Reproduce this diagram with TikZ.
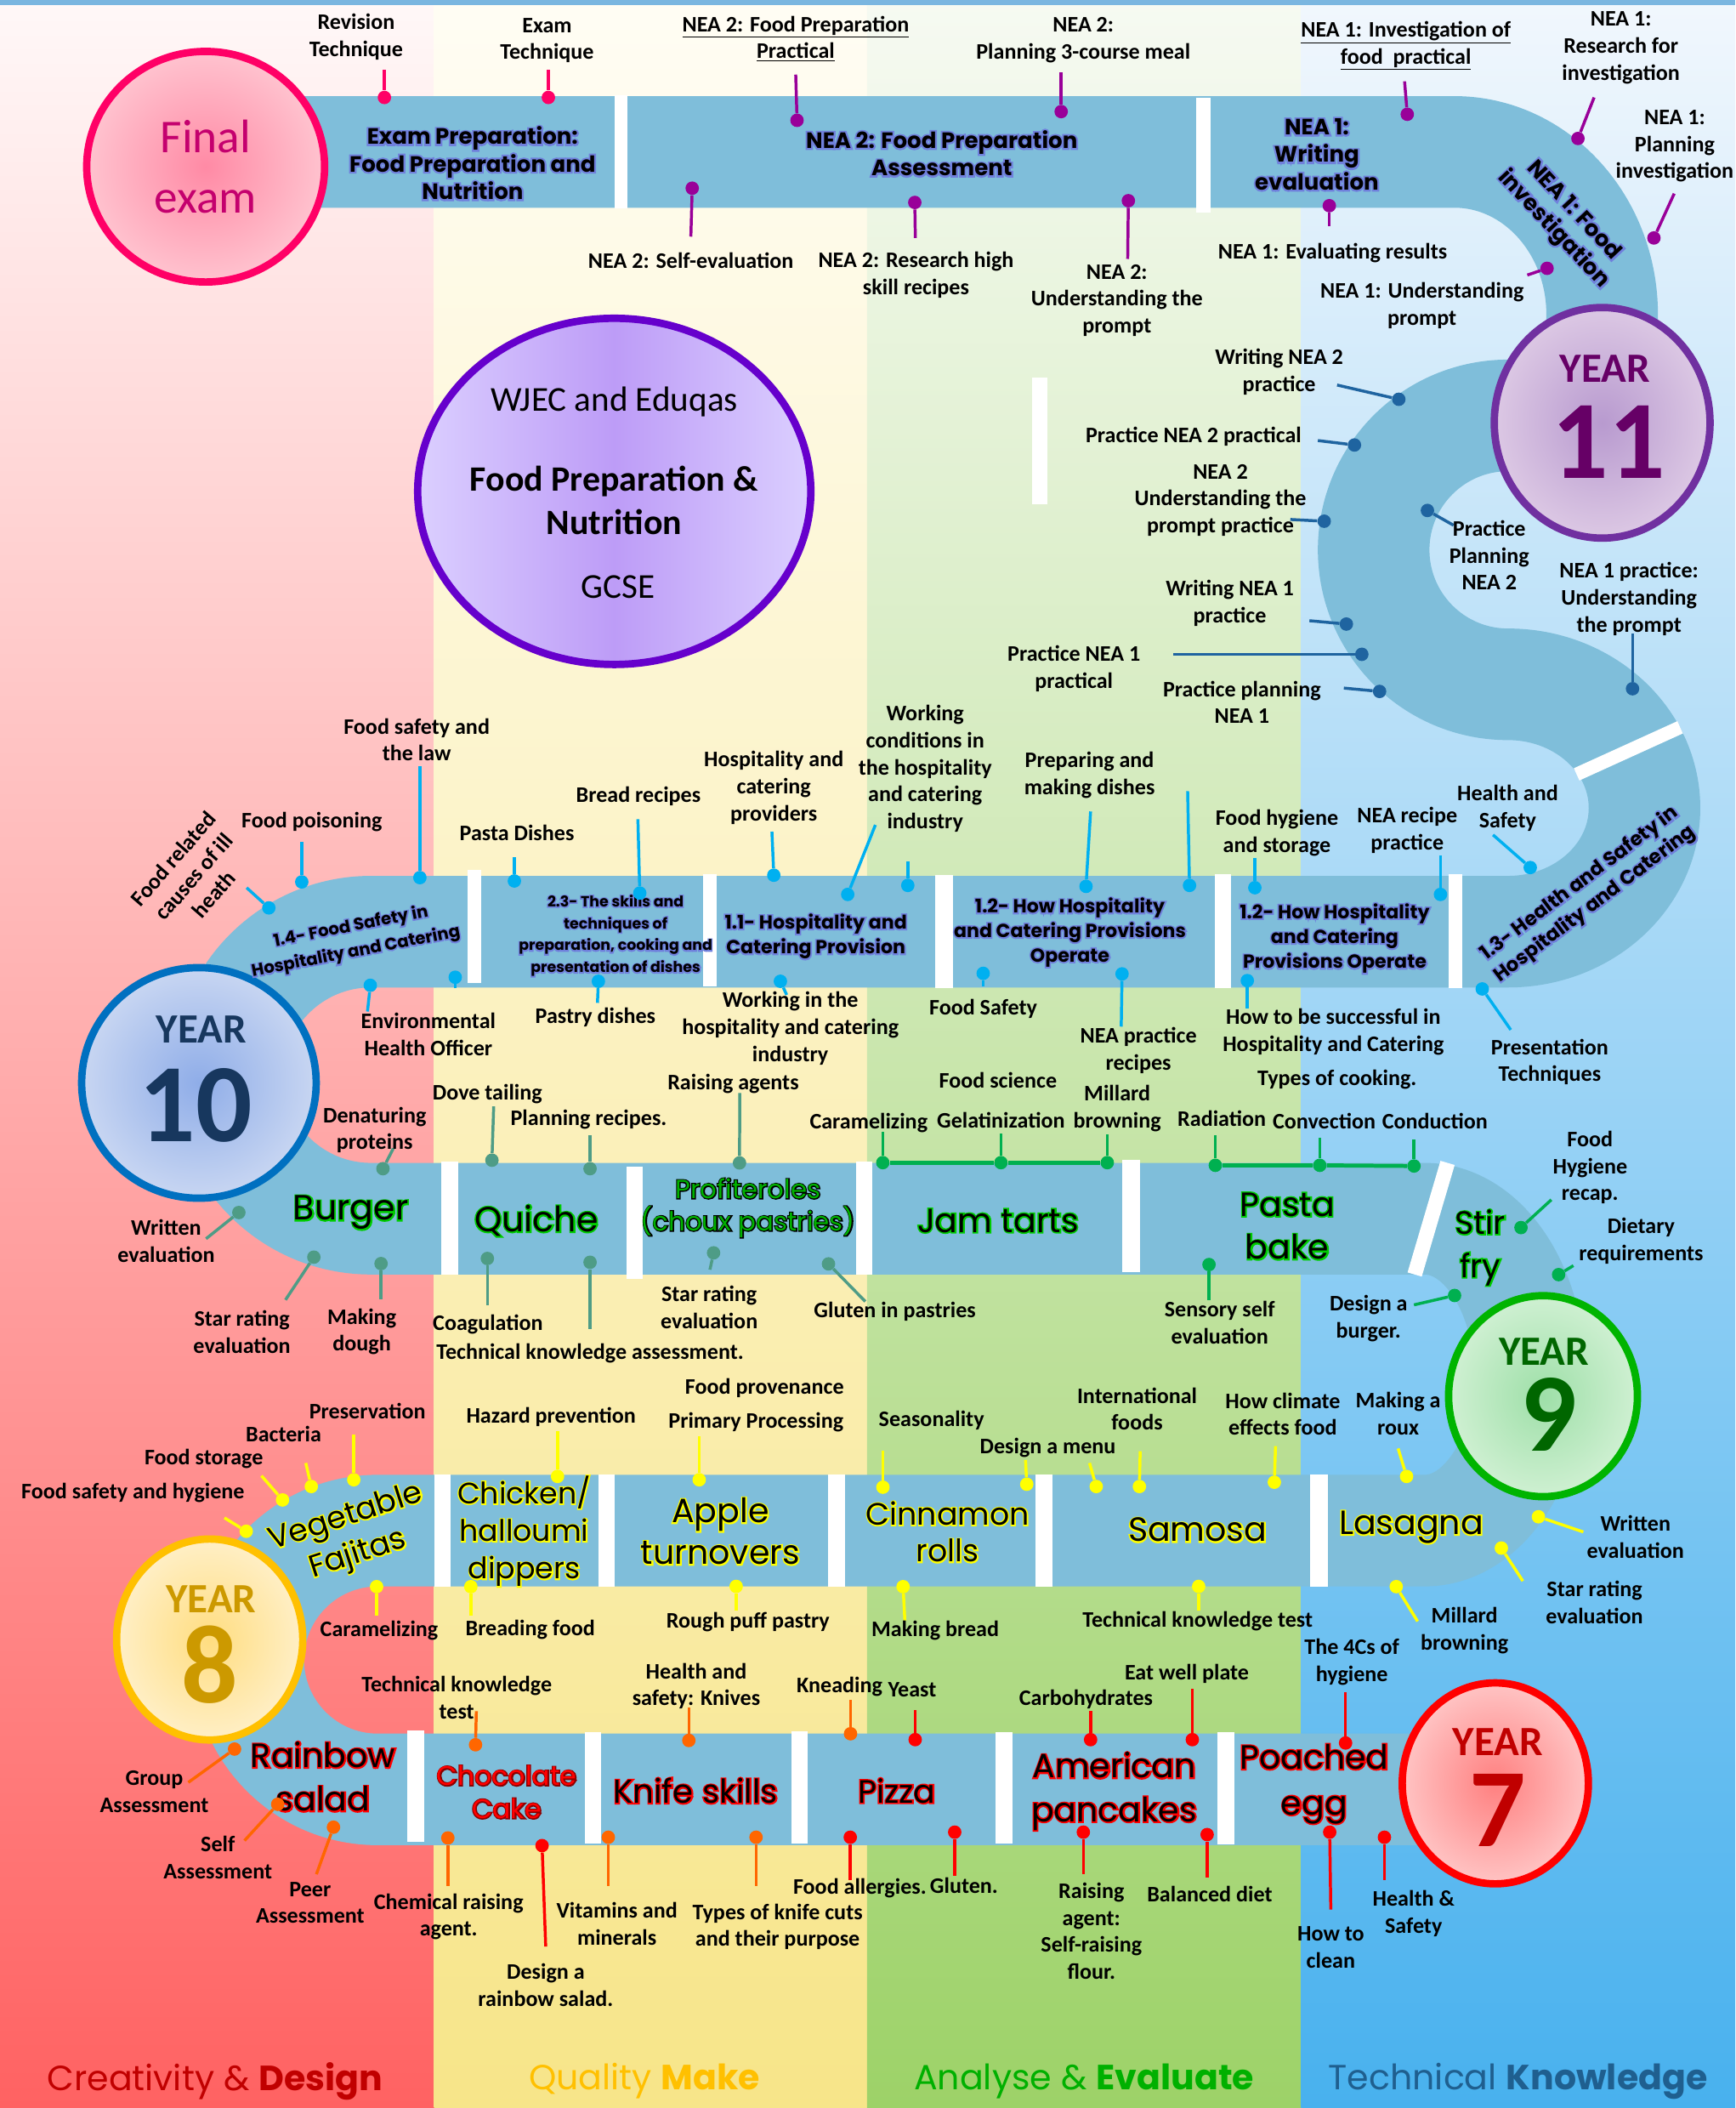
\documentclass[tikz,border=0pt]{standalone}
\usepackage{fontspec}
\setmainfont{Carlito}
\newfontfamily\popp{Poppins}
\newfontfamily\poppedge{Poppins}[FakeBold=8]
\newfontfamily\poppglow{Poppins}[FakeBold=16]
\usetikzlibrary{shapes.geometric}

\definecolor{Road}{HTML}{7FBEDA}
\definecolor{TopBlue}{HTML}{7AB6E0}
\definecolor{RedTop}{HTML}{FFF8F8}
\definecolor{RedMid}{HTML}{FFC4C4}
\definecolor{RedBot}{HTML}{FF6262}
\definecolor{YelTop}{HTML}{FFFDF4}
\definecolor{YelMid}{HTML}{FAF0C2}
\definecolor{YelBot}{HTML}{F7E589}
\definecolor{GrnTop}{HTML}{F6FAF2}
\definecolor{GrnMid}{HTML}{D4E9C0}
\definecolor{GrnBot}{HTML}{9DD268}
\definecolor{BluTop}{HTML}{F1F7FD}
\definecolor{BluMid}{HTML}{BDDDF7}
\definecolor{BluBot}{HTML}{48B1EE}
\definecolor{PinF}{HTML}{FF0066}
\definecolor{PinA}{HTML}{990099}
\definecolor{PinS}{HTML}{1F64A0}
\definecolor{PinB}{HTML}{00B0F0}
\definecolor{PinT}{HTML}{4E9C86}
\definecolor{PinG}{HTML}{00B050}
\definecolor{PinY}{HTML}{FFFF00}
\definecolor{PinO}{HTML}{FF6600}
\definecolor{PinR}{HTML}{FF0000}
\definecolor{GlowCol}{HTML}{7080DC}
\definecolor{DishG}{HTML}{00CC00}
\definecolor{ProfG}{HTML}{00B000}
\definecolor{DishY}{HTML}{FFFF00}
\definecolor{DishR}{HTML}{FF0000}
\definecolor{ChocEdge}{HTML}{8B0000}
\definecolor{FinLine}{HTML}{FF0066}
\definecolor{FinIn}{HTML}{FF8AA5}
\definecolor{FinOut}{HTML}{FFC3CF}
\definecolor{FinTxt}{HTML}{C4006E}
\definecolor{YElevLine}{HTML}{7030A0}
\definecolor{YElevIn}{HTML}{B89ACF}
\definecolor{YElevOut}{HTML}{DCC8E4}
\definecolor{YElevTxt}{HTML}{660066}
\definecolor{YTenLine}{HTML}{0070C0}
\definecolor{YTenIn}{HTML}{8FADE8}
\definecolor{YTenOut}{HTML}{C8D6F2}
\definecolor{YTenTxt}{HTML}{17375E}
\definecolor{YNineLine}{HTML}{00B400}
\definecolor{YNineIn}{HTML}{9EDFA8}
\definecolor{YNineOut}{HTML}{CFF0D2}
\definecolor{YNineTxt}{HTML}{006600}
\definecolor{YEightLine}{HTML}{FFC000}
\definecolor{YEightIn}{HTML}{FFDD80}
\definecolor{YEightOut}{HTML}{FFEFC6}
\definecolor{YEightTxt}{HTML}{CC9900}
\definecolor{YSevenLine}{HTML}{FF0000}
\definecolor{YSevenIn}{HTML}{FF8080}
\definecolor{YSevenOut}{HTML}{FFC4C4}
\definecolor{YSevenTxt}{HTML}{C00000}
\definecolor{WjLine}{HTML}{6600CC}
\definecolor{WjSide}{HTML}{DBCFFF}
\definecolor{WjMid}{HTML}{BD9CF7}
\definecolor{CapRed}{HTML}{C00000}
\definecolor{CapYel}{HTML}{FFC000}
\definecolor{CapGrn}{HTML}{00B000}
\definecolor{CapBlu}{HTML}{1F5F8F}

\newcommand{\bandline}[1]{\rlap{\color{GlowCol}\poppglow #1}#1}
\newcommand{\edged}[2]{\rlap{\color{#1}\poppedge #2}#2}

\begin{document}
\begin{tikzpicture}[x=1pt,y=-1pt]
            \tikzset{RoadStyle/.style={draw=Road, line width=83pt}}
            \tikzset{GapStyle/.style={fill=white}}
            \tikzset{Dot/.style={circle, fill=#1, inner sep=0pt, minimum size=10pt}}
            \tikzset{Pin/.style={draw=#1, line width=2.2pt}}
            \tikzset{Lbl/.style={font=\fontsize{16.5}{20}\selectfont\bfseries, align=center, inner sep=0pt}}
            \tikzset{BandTxt/.style={font=\popp\bfseries\fontsize{16.5}{20.5}\selectfont, align=center, inner sep=0pt}}
            \tikzset{DishTxt/.style={font=\popp\fontsize{25}{31}\selectfont, align=center, inner sep=0pt}}
            \tikzset{YearDisc/.style={ellipse, line width=5.5pt, inner sep=0pt}}
            \tikzset{YearTxt/.style={font=\fontsize{31}{31}\selectfont\bfseries, inner sep=0pt}}
            \tikzset{YearNum/.style={font=\fontsize{83}{83}\selectfont\bfseries, inner sep=0pt}}
            \tikzset{CapTxt/.style={font=\popp\fontsize{26}{30}\selectfont, inner sep=0pt}}

            \useasboundingbox (0,0) rectangle (1291,1568);

            \shade[top color=RedTop, middle color=RedMid, bottom color=RedBot] (0,0) rectangle (323.5,1568);
            \shade[top color=YelTop, middle color=YelMid, bottom color=YelBot] (323,0) rectangle (645.5,1568);
            \shade[top color=GrnTop, middle color=GrnMid, bottom color=GrnBot] (645,0) rectangle (968.5,1568);
            \shade[top color=BluTop, middle color=BluMid, bottom color=BluBot] (968,0) rectangle (1291,1568);
            \fill[TopBlue] (0,0) rectangle (1291,3.5);

            \draw[RoadStyle] (200,113) -- (1082,113) arc[start angle=-90, end angle=0, x radius=110, y radius=121] -- (1192,320);
            \draw[RoadStyle] (1200,309) -- (1122,309) arc[start angle=-90, end angle=-270, radius=100]
                arc[start angle=-90, end angle=90, x radius=101.5, y radius=92] -- (276,693)
                arc[start angle=-90, end angle=-270, radius=106.75] -- (1060,906.5)
                arc[start angle=-90, end angle=90, x radius=78, y radius=116] -- (281,1138.5)
                arc[start angle=-90, end angle=-270, radius=96.25] -- (1113,1331);

            \fill[GapStyle] (457,71) rectangle (467,155);
            \fill[GapStyle] (890,73) rectangle (900.5,158);
            \fill[GapStyle] (348,647) rectangle (358,731);
            \fill[GapStyle] (523,650) rectangle (533,734);
            \fill[GapStyle] (696,651) rectangle (709,735);
            \fill[GapStyle] (904,650) rectangle (916,735);
            \fill[GapStyle] (1078,650) rectangle (1088,735);
            \fill[GapStyle] (328,864) rectangle (341,948);
            \fill[GapStyle] (466,868) rectangle (478,951);
            \fill[GapStyle] (637,864) rectangle (649,948);
            \fill[GapStyle] (835,863) rectangle (848,946);
            \fill[GapStyle] (323.5,1097) rectangle (335.5,1180);
            \fill[GapStyle] (445,1097) rectangle (457,1180);
            \fill[GapStyle] (616,1097) rectangle (628.5,1180);
            \fill[GapStyle] (770.5,1097) rectangle (783,1180);
            \fill[GapStyle] (975,1097) rectangle (988,1180);
            \fill[GapStyle] (303,1287) rectangle (315.5,1370);
            \fill[GapStyle] (435,1288.5) rectangle (447,1371.5);
            \fill[GapStyle] (589,1287.5) rectangle (601,1371);
            \fill[GapStyle] (740.5,1288.5) rectangle (753,1371.5);
            \fill[GapStyle] (905.5,1288.5) rectangle (918.5,1372);
            \fill[GapStyle] (768,281) rectangle (779,375);
            \draw[white, line width=11pt] (1077,865) -- (1052.5,948);
            \draw[white, line width=10pt] (1173,576) -- (1250,541);

            \node[YearDisc, draw=WjLine, left color=WjSide, right color=WjSide, middle color=WjMid, minimum width=292.5pt, minimum height=257.5pt] (wjec) at (457,365.5) {};
            \node[font=\fontsize{26}{30}\selectfont, inner sep=0pt] (wj1) at (457,299) {WJEC and Eduqas};
            \node[font=\fontsize{26.5}{32}\selectfont\bfseries, align=center, inner sep=0pt] (wj2) at (457,372) {Food Preparation \&\\Nutrition};
            \node[font=\fontsize{26}{30}\selectfont, inner sep=0pt] (wj3) at (460,436.7) {GCSE};

            \node[YearDisc, draw=FinLine, inner color=FinIn, outer color=FinOut, minimum width=177pt, minimum height=171.5pt, text=FinTxt, font=\fontsize{35}{45}\selectfont, align=center] (fin) at (153,124) {Final\\exam};
            \node[YearDisc, draw=YElevLine, inner color=YElevIn, outer color=YElevOut, minimum width=160.5pt, minimum height=171.5pt] (y11) at (1192,314.5) {};
            \node[YearTxt, text=YElevTxt] (y11a) at (1194,274) {YEAR};
            \node[YearNum, text=YElevTxt] (y11b) at (1197,329) {11};
            \node[YearDisc, draw=YTenLine, inner color=YTenIn, outer color=YTenOut, minimum width=174.5pt, minimum height=171.5pt] (y10) at (148,805.5) {};
            \node[YearTxt, text=YTenTxt] (y10a) at (149.7,766) {YEAR};
            \node[YearNum, text=YTenTxt] (y10b) at (145.6,822) {10};
            \node[YearDisc, draw=YNineLine, inner color=YNineIn, outer color=YNineOut, minimum width=140.5pt, minimum height=149.5pt] (y9) at (1148,1038.5) {};
            \node[YearTxt, text=YNineTxt] (y9a) at (1148.7,1005.7) {YEAR};
            \node[YearNum, text=YNineTxt] (y9b) at (1152,1052) {9};
            \node[YearDisc, draw=YEightLine, inner color=YEightIn, outer color=YEightOut, minimum width=138.5pt, minimum height=149.5pt] (y8) at (156,1219.5) {};
            \node[YearTxt, text=YEightTxt] (y8a) at (157,1189.5) {YEAR};
            \node[YearNum, text=YEightTxt] (y8b) at (156,1238) {8};
            \node[YearDisc, draw=YSevenLine, inner color=YSevenIn, outer color=YSevenOut, minimum width=138.5pt, minimum height=149.5pt] (y7) at (1112.5,1326.5) {};
            \node[YearTxt, text=YSevenTxt] (y7a) at (1114.3,1296) {YEAR};
            \node[YearNum, text=YSevenTxt] (y7b) at (1114.3,1346.6) {7};

            \node[BandTxt] (ra1) at (351.6,121.3) {\bandline{Exam Preparation:}\\\bandline{Food Preparation and}\\\bandline{Nutrition}};
            \node[BandTxt] (ra2) at (700.7,114) {\bandline{NEA 2: Food Preparation}\\\bandline{Assessment}};
            \node[BandTxt] (ra3) at (979.7,114.8) {\bandline{NEA 1:}\\\bandline{Writing}\\\bandline{evaluation}};
            \node[BandTxt, rotate=-47] (ra4) at (1163,164) {\bandline{NEA 1: Food}\\\bandline{investigation}};
            \node[BandTxt, font=\popp\bfseries\fontsize{12.5}{19}\selectfont, rotate=11] (rb1) at (263,699) {\bandline{1.4- Food Safety in}\\\bandline{Hospitality and Catering}};
            \node[BandTxt, font=\popp\bfseries\fontsize{11}{16.3}\selectfont] (rb2) at (458,696) {\bandline{2.3- The skills and}\\\bandline{techniques of}\\\bandline{preparation, cooking and}\\\bandline{presentation of dishes}};
            \node[BandTxt, font=\popp\bfseries\fontsize{14}{18.5}\selectfont] (rb3) at (607,696.5) {\bandline{1.1- Hospitality and}\\\bandline{Catering Provision}};
            \node[BandTxt, font=\popp\bfseries\fontsize{14}{18.2}\selectfont] (rb4) at (796,693.5) {\bandline{1.2- How Hospitality}\\\bandline{and Catering Provisions}\\\bandline{Operate}};
            \node[BandTxt, font=\popp\bfseries\fontsize{14}{18.5}\selectfont] (rb5) at (993,698) {\bandline{1.2- How Hospitality}\\\bandline{and Catering}\\\bandline{Provisions Operate}};
            \node[BandTxt, font=\popp\bfseries\fontsize{14.5}{19}\selectfont, rotate=37] (rb6) at (1181,665) {\bandline{1.3- Health and Safety in}\\\bandline{Hospitality and Catering}};

            \node[DishTxt, font=\popp\fontsize{26}{31}\selectfont] (rc1) at (261,902) {\edged{DishG}{Burger}};
            \node[DishTxt, font=\popp\fontsize{26}{31}\selectfont] (rc2) at (399,908) {\edged{DishG}{Quiche}};
            \node[DishTxt, font=\popp\fontsize{19.5}{24}\selectfont, text=ProfG] (rc3) at (556.5,898.5) {\edged{black}{Profiteroles}\\\edged{black}{(choux pastries)}};
            \node[DishTxt] (rc4) at (742.5,908) {\edged{DishG}{Jam tarts}};
            \node[DishTxt, font=\popp\fontsize{25}{32}\selectfont] (rc5) at (957.7,912) {\edged{DishG}{Pasta}\\\edged{DishG}{bake}};
            \node[DishTxt, font=\popp\fontsize{24}{32}\selectfont] (rc6) at (1101.4,928) {\edged{DishG}{Stir}\\\edged{DishG}{fry}};
            \node[DishTxt, font=\popp\fontsize{23}{29}\selectfont, rotate=18] (rd1) at (262,1143) {\edged{DishY}{Vegetable}\\\edged{DishY}{Fajitas}};
            \node[DishTxt, font=\popp\fontsize{22}{28}\selectfont] (rd2) at (390,1139) {\edged{DishY}{Chicken/}\\\edged{DishY}{halloumi}\\\edged{DishY}{dippers}};
            \node[DishTxt] (rd3) at (536,1139) {\edged{DishY}{Apple}\\\edged{DishY}{turnovers}};
            \node[DishTxt, font=\popp\fontsize{23}{27.5}\selectfont] (rd4) at (705,1139.5) {\edged{DishY}{Cinnamon}\\\edged{DishY}{rolls}};
            \node[DishTxt] (rd5) at (891,1138) {\edged{DishY}{Samosa}};
            \node[DishTxt] (rd6) at (1050,1136) {\edged{DishY}{Lasagna}};
            \node[DishTxt, font=\popp\fontsize{25}{32.5}\selectfont] (re1) at (240.4,1321.5) {\edged{DishR}{Rainbow}\\\edged{DishR}{salad}};
            \node[DishTxt, font=\popp\fontsize{20}{24.5}\selectfont, text=DishR] (re2) at (377,1333) {\edged{ChocEdge}{Chocolate}\\\edged{ChocEdge}{Cake}};
            \node[DishTxt, font=\popp\fontsize{24.5}{31}\selectfont] (re3) at (517.5,1332) {\edged{DishR}{Knife skills}};
            \node[DishTxt, font=\popp\fontsize{24}{31}\selectfont] (re4) at (667.2,1332) {\edged{DishR}{Pizza}};
            \node[DishTxt, font=\popp\fontsize{25}{32.5}\selectfont] (re5) at (829,1332.5) {\edged{DishR}{American}\\\edged{DishR}{pancakes}};
            \node[DishTxt, font=\popp\fontsize{25}{34}\selectfont] (re6) at (977.8,1327) {\edged{DishR}{Poached}\\\edged{DishR}{egg}};

            \node[Dot=PinF] (a1) at (286,72.5) {}; \coordinate (a1x) at (286,52); \draw[Pin=PinF] (a1) -- (a1x); \node[Lbl] (a1t) at (265,27.5) {Revision\\Technique};
            \node[Dot=PinF] (a2) at (408,72.5) {}; \coordinate (a2x) at (408,52); \draw[Pin=PinF] (a2) -- (a2x); \node[Lbl] (a2t) at (407,30) {Exam\\Technique};
            \node[Dot=PinA] (a3) at (593,89.5) {}; \coordinate (a3x) at (592,55.5); \draw[Pin=PinA] (a3) -- (a3x); \node[Lbl] (a3t) at (592,28.8) {\underline{NEA 2: Food Preparation}\\\underline{Practical}};
            \node[Dot=PinA] (a4) at (789.5,83) {}; \coordinate (a4x) at (789.5,54); \draw[Pin=PinA] (a4) -- (a4x); \node[Lbl] (a4t) at (806,30) {NEA 2:\\Planning 3-course meal};
            \node[Dot=PinA] (a5) at (1047,85) {}; \coordinate (a5x) at (1045,60.5); \draw[Pin=PinA] (a5) -- (a5x); \node[Lbl] (a5t) at (1046,34) {\underline{NEA 1: Investigation of}\\\underline{food~~practical}};
            \node[Dot=PinA] (a6) at (1174,103) {}; \coordinate (a6x) at (1186,72.5); \draw[Pin=PinA] (a6) -- (a6x); \node[Lbl] (a6t) at (1206,35.5) {NEA 1:\\Research for\\investigation};
            \node[Dot=PinA] (a7) at (1230.5,177) {}; \coordinate (a7x) at (1245.6,144); \draw[Pin=PinA] (a7) -- (a7x); \node[Lbl] (a7t) at (1246,108.8) {NEA 1:\\Planning\\investigation};
            \node[Dot=PinA] (a8) at (515,140) {}; \coordinate (a8x) at (514,176); \draw[Pin=PinA] (a8) -- (a8x); \node[Lbl] (a8t) at (514,193.8) {NEA 2: Self-evaluation};
            \node[Dot=PinA] (a9) at (680.6,150.6) {}; \coordinate (a9x) at (681,177); \draw[Pin=PinA] (a9) -- (a9x); \node[Lbl] (a9t) at (681.5,204.6) {NEA 2: Research high\\skill recipes};
            \node[Dot=PinA] (a10) at (839.5,149.3) {}; \coordinate (a10x) at (839,192.6); \draw[Pin=PinA] (a10) -- (a10x); \node[Lbl] (a10t) at (831,223.5) {NEA 2:\\Understanding the\\prompt};
            \node[Dot=PinA] (a11) at (989,153) {}; \coordinate (a11x) at (989,168); \draw[Pin=PinA] (a11) -- (a11x); \node[Lbl] (a11t) at (991.5,188) {NEA 1: Evaluating results};
            \node[Dot=PinA] (a12) at (1151,199.6) {}; \coordinate (a12x) at (1136.3,204.6); \draw[Pin=PinA] (a12) -- (a12x); \node[Lbl] (a12t) at (1058,227.3) {NEA 1: Understanding\\prompt};

            \node[Dot=PinS] (s1) at (1040.7,297) {}; \coordinate (s1x) at (994.8,286.4); \draw[Pin=PinS] (s1) -- (s1x); \node[Lbl] (s1t) at (951.7,276.6) {Writing NEA 2\\practice};
            \node[Dot=PinS] (s2) at (1007.7,331) {}; \coordinate (s2x) at (980.5,327.7); \draw[Pin=PinS] (s2) -- (s2x); \node[Lbl] (s2t) at (888,325) {Practice NEA 2 practical};
            \node[Dot=PinS] (s3) at (985.2,387.7) {}; \coordinate (s3x) at (960,386.4); \draw[Pin=PinS] (s3) -- (s3x); \node[Lbl] (s3t) at (908,372) {NEA 2\\Understanding the\\prompt practice};
            \node[Dot=PinS] (s4) at (1062,379.7) {}; \coordinate (s4x) at (1081.4,390.7); \draw[Pin=PinS] (s4) -- (s4x); \node[Lbl] (s4t) at (1108,413) {Practice\\Planning\\NEA 2};
            \node[Dot=PinS] (s5) at (1214.6,512.3) {}; \coordinate (s5x) at (1214.6,471); \draw[Pin=PinS] (s5) -- (s5x); \node[Lbl] (s5t) at (1212,445.5) {NEA 1 practice:\\Understanding\\the prompt};
            \node[Dot=PinS] (s6) at (1001.7,464.2) {}; \coordinate (s6x) at (974.2,461.7); \draw[Pin=PinS] (s6) -- (s6x); \node[Lbl] (s6t) at (915,448.5) {Writing NEA 1\\practice};
            \node[Dot=PinS] (s7) at (1013.2,486.7) {}; \coordinate (s7x) at (872.6,486.7); \draw[Pin=PinS] (s7) -- (s7x); \node[Lbl] (s7t) at (799,497.5) {Practice NEA 1\\practical};
            \node[Dot=PinS] (s8) at (1026.4,514.3) {}; \coordinate (s8x) at (999.8,511.8); \draw[Pin=PinS] (s8) -- (s8x); \node[Lbl] (s8t) at (924,522.3) {Practice planning\\NEA 1};

            \node[Dot=PinB] (b1) at (200,675.3) {}; \coordinate (b1x) at (183.5,660.3); \draw[Pin=PinB] (b1) -- (b1x); \node[Lbl, rotate=49] (b1t) at (144,652) {Food related\\causes of ill\\heath};
            \node[Dot=PinB] (b2) at (224.5,656) {}; \coordinate (b2x) at (224.5,626); \draw[Pin=PinB] (b2) -- (b2x); \node[Lbl] (b2t) at (232,611.3) {Food poisoning};
            \node[Dot=PinB] (b3) at (312.4,652.8) {}; \coordinate (b3x) at (312.4,569.8); \draw[Pin=PinB] (b3) -- (b3x); \node[Lbl] (b3t) at (310,550.3) {Food safety and\\the law};
            \node[Dot=PinB] (b4) at (382.7,655.3) {}; \coordinate (b4x) at (382.7,637.8); \draw[Pin=PinB] (b4) -- (b4x); \node[Lbl] (b4t) at (384.6,619.8) {Pasta Dishes};
            \node[Dot=PinB] (b5) at (476,664.3) {}; \coordinate (b5x) at (474.6,609.3); \draw[Pin=PinB] (b5) -- (b5x); \node[Lbl] (b5t) at (475,592) {Bread recipes};
            \node[Dot=PinB] (b6) at (575.7,651) {}; \coordinate (b6x) at (574.3,618.6); \draw[Pin=PinB] (b6) -- (b6x); \node[Lbl] (b6t) at (575.7,586) {Hospitality and\\catering\\providers};
            \node[Dot=PinB] (b7) at (630.7,665.3) {}; \coordinate (b7x) at (651.3,613.6); \draw[Pin=PinB] (b7) -- (b7x); \node[Lbl] (b7t) at (688.3,571.8) {Working\\conditions in\\the hospitality\\and catering\\industry};
            \node[Dot=PinB] (b8) at (675.4,658.6) {}; \coordinate (b8x) at (675.4,640.6); \draw[Pin=PinB] (b8) -- (b8x);
            \node[Dot=PinB] (b9) at (808,659.3) {}; \coordinate (b9x) at (811.4,603.6); \draw[Pin=PinB] (b9) -- (b9x); \node[Lbl] (b9t) at (810.6,576.5) {Preparing and\\making dishes};
            \node[Dot=PinB] (b10) at (885,658.6) {}; \coordinate (b10x) at (883.6,588.5); \draw[Pin=PinB] (b10) -- (b10x);
            \node[Dot=PinB] (b11) at (933.6,660.3) {}; \coordinate (b11x) at (933.6,638); \draw[Pin=PinB] (b11) -- (b11x); \node[Lbl] (b11t) at (950,619.5) {Food hygiene\\and storage};
            \node[Dot=PinB] (b12) at (1071.7,665.3) {}; \coordinate (b12x) at (1071.7,636); \draw[Pin=PinB] (b12) -- (b12x); \node[Lbl] (b12t) at (1047,617.5) {NEA recipe\\practice};
            \node[Dot=PinB] (b13) at (1138.5,645.3) {}; \coordinate (b13x) at (1110.8,621); \draw[Pin=PinB] (b13) -- (b13x); \node[Lbl] (b13t) at (1121.7,601) {Health and\\Safety};
            \node[Dot=PinB] (b14) at (275.5,732.9) {}; \coordinate (b14x) at (273.4,752.4); \draw[Pin=PinB] (b14) -- (b14x); \node[Lbl] (b14t) at (318.7,769.6) {Environmental\\Health Officer};
            \node[Dot=PinB] (b15) at (338.7,726.9) {}; \coordinate (b15x) at (338.7,735); \draw[Pin=PinB] (b15) -- (b15x);
            \node[Dot=PinB] (b16) at (445.2,729.9) {}; \coordinate (b16x) at (444.5,746); \draw[Pin=PinB] (b16) -- (b16x); \node[Lbl] (b16t) at (443,757) {Pastry dishes};
            \node[Dot=PinB] (b17) at (580.6,729.9) {}; \coordinate (b17x) at (585.3,740); \draw[Pin=PinB] (b17) -- (b17x); \node[Lbl] (b17t) at (588,765) {Working in the\\hospitality and catering\\industry};
            \node[Dot=PinB] (b18) at (731.5,724) {}; \coordinate (b18x) at (731.5,734); \draw[Pin=PinB] (b18) -- (b18x); \node[Lbl] (b18t) at (731.5,750.4) {Food Safety};
            \node[Dot=PinB] (b19) at (834.8,724.4) {}; \coordinate (b19x) at (834.2,763.6); \draw[Pin=PinB] (b19) -- (b19x); \node[Lbl] (b19t) at (847,781.5) {NEA practice\\recipes};
            \node[Dot=PinB] (b20) at (928,729.4) {}; \coordinate (b20x) at (928,750); \draw[Pin=PinB] (b20) -- (b20x); \node[Lbl] (b20t) at (992,767.6) {How to be successful in\\Hospitality and Catering};
            \node[Dot=PinB] (b21) at (1102.8,735.6) {}; \coordinate (b21x) at (1124,766); \draw[Pin=PinB] (b21) -- (b21x); \node[Lbl] (b21t) at (1153,790) {Presentation\\Techniques};

            \node[Lbl] (h1) at (742.5,803.6) {Food science};
            \node[Lbl] (h2) at (994.8,803) {Types of cooking.};
            \node[Dot=PinT] (c1) at (284.9,869.3) {}; \coordinate (c1x) at (292.6,854.3); \draw[Pin=PinT] (c1) -- (c1x); \node[Lbl] (c1t) at (278.8,840.6) {Denaturing\\proteins};
            \node[Dot=PinT] (c2) at (366,863) {}; \coordinate (c2x) at (367.3,823); \draw[Pin=PinT] (c2) -- (c2x); \node[Lbl] (c2t) at (362.6,813.8) {Dove tailing};
            \node[Dot=PinT] (c3) at (439,869.3) {}; \coordinate (c3x) at (439,844.3); \draw[Pin=PinT] (c3) -- (c3x); \node[Lbl] (c3t) at (438,833) {Planning recipes.};
            \node[Dot=PinT] (c4) at (550.2,865) {}; \coordinate (c4x) at (550.4,813); \draw[Pin=PinT] (c4) -- (c4x); \node[Lbl] (c4t) at (545.5,806.3) {Raising agents};
            \node[Dot=PinG] (c5) at (656.8,864.8) {}; \coordinate (c5x) at (656.8,842); \draw[Pin=PinG] (c5) -- (c5x); \node[Lbl] (c5t) at (646.3,835) {Caramelizing};
            \node[Dot=PinG] (c6) at (744.7,864.8) {}; \coordinate (c6x) at (744.7,843); \draw[Pin=PinG] (c6) -- (c6x); \node[Lbl] (c6t) at (744.7,833) {Gelatinization};
            \node[Dot=PinG] (c7) at (823.8,864.8) {}; \coordinate (c7x) at (823.8,844); \draw[Pin=PinG] (c7) -- (c7x); \node[Lbl] (c7t) at (831.2,824.5) {Millard\\browning};
            \draw[Pin=PinG, line width=3pt] (c5) -- (c6) -- (c7);
            \node[Dot=PinG] (c8) at (904.2,866.8) {}; \coordinate (c8x) at (904.2,844.3); \draw[Pin=PinG] (c8) -- (c8x); \node[Lbl] (c8t) at (909,831.8) {Radiation};
            \node[Dot=PinG] (c9) at (981.9,866.8) {}; \coordinate (c9x) at (981.9,846.3); \draw[Pin=PinG] (c9) -- (c9x); \node[Lbl] (c9t) at (985.2,833.8) {Convection};
            \node[Dot=PinG] (c10) at (1052,867.3) {}; \coordinate (c10x) at (1052,847.3); \draw[Pin=PinG] (c10) -- (c10x); \node[Lbl] (c10t) at (1067.6,833.8) {Conduction};
            \draw[Pin=PinG, line width=3pt] (c8) -- (c9) -- (c10);
            \node[Dot=PinG] (c11) at (1131.6,913.1) {}; \coordinate (c11x) at (1154.2,892.4); \draw[Pin=PinG] (c11) -- (c11x); \node[Lbl] (c11t) at (1183,868.6) {Food\\Hygiene\\recap.};
            \node[Dot=PinG] (c12) at (1159.6,948.1) {}; \coordinate (c12x) at (1170.6,941.4); \draw[Pin=PinG] (c12) -- (c12x); \node[Lbl] (c12t) at (1221,923) {Dietary\\requirements};
            \node[Dot=PinT] (c13) at (177.7,901.9) {}; \coordinate (c13x) at (153.3,921.4); \draw[Pin=PinT] (c13) -- (c13x); \node[Lbl] (c13t) at (123.6,923) {Written\\evaluation};
            \node[Dot=PinT] (c14) at (233.5,935.1) {}; \coordinate (c14x) at (212.4,966.9); \draw[Pin=PinT] (c14) -- (c14x); \node[Lbl] (c14t) at (180,990.6) {Star rating\\evaluation};
            \node[Dot=PinT] (c15) at (283.5,939.9) {}; \coordinate (c15x) at (283.5,966.4); \draw[Pin=PinT] (c15) -- (c15x); \node[Lbl] (c15t) at (269.2,990.6) {Making\\dough};
            \node[Dot=PinT] (c16) at (362.6,936.1) {}; \coordinate (c16x) at (362.6,970.6); \draw[Pin=PinT] (c16) -- (c16x); \node[Lbl] (c16t) at (363,985) {Coagulation};
            \node[Dot=PinT] (c17) at (439,938.9) {}; \coordinate (c17x) at (439,988.9); \draw[Pin=PinT] (c17) -- (c17x); \node[Lbl] (c17t) at (439,1006.4) {Technical knowledge assessment.};
            \node[Dot=PinT] (c18) at (530.9,931.9) {}; \coordinate (c18x) at (528.2,944.4); \draw[Pin=PinT] (c18) -- (c18x); \node[Lbl] (c18t) at (527.6,972.4) {Star rating\\evaluation};
            \node[Dot=PinT] (c19) at (616.4,940.1) {}; \coordinate (c19x) at (643.8,968.1); \draw[Pin=PinT] (c19) -- (c19x); \node[Lbl] (c19t) at (665.8,975.6) {Gluten in pastries};
            \node[Dot=PinG] (c20) at (899.5,940.6) {}; \coordinate (c20x) at (899.5,966.9); \draw[Pin=PinG] (c20) -- (c20x); \node[Lbl] (c20t) at (907.5,984) {Sensory self\\evaluation};
            \node[Dot=PinG] (c21) at (1082.2,963.6) {}; \coordinate (c21x) at (1052,970.6); \draw[Pin=PinG] (c21) -- (c21x); \node[Lbl] (c21t) at (1018.2,980.9) {Design a\\burger.};

            \node[Lbl] (h3) at (568.8,1032.4) {Food provenance};
            \node[Dot=PinY] (d1) at (263.2,1100.7) {}; \coordinate (d1x) at (263.2,1067); \draw[Pin=PinY] (d1) -- (d1x); \node[Lbl] (d1t) at (273.4,1049.4) {Preservation};
            \node[Dot=PinY] (d2) at (231.6,1105.7) {}; \coordinate (d2x) at (227.5,1088.2); \draw[Pin=PinY] (d2) -- (d2x); \node[Lbl] (d2t) at (211,1066.4) {Bacteria};
            \node[Dot=PinY] (d3) at (210.2,1115.7) {}; \coordinate (d3x) at (194.5,1097.7); \draw[Pin=PinY] (d3) -- (d3x); \node[Lbl] (d3t) at (151.6,1085.2) {Food storage};
            \node[Dot=PinY] (d4) at (183.2,1139) {}; \coordinate (d4x) at (167,1129); \draw[Pin=PinY] (d4) -- (d4x); \node[Lbl] (d4t) at (98.9,1110.7) {Food safety and hygiene};
            \node[Dot=PinY] (d5) at (414.8,1098.2) {}; \coordinate (d5x) at (414.8,1064.4); \draw[Pin=PinY] (d5) -- (d5x); \node[Lbl] (d5t) at (410,1054) {Hazard prevention};
            \node[Dot=PinY] (d6) at (520.2,1100.7) {}; \coordinate (d6x) at (520.2,1068.2); \draw[Pin=PinY] (d6) -- (d6x); \node[Lbl] (d6t) at (562.5,1057.7) {Primary Processing};
            \node[Dot=PinY] (d7) at (656.9,1106.2) {}; \coordinate (d7x) at (656.9,1079); \draw[Pin=PinY] (d7) -- (d7x); \node[Lbl] (d7t) at (693,1056.4) {Seasonality};
            \node[Dot=PinY] (d8) at (763.9,1104) {}; \coordinate (d8x) at (763,1086); \draw[Pin=PinY] (d8) -- (d8x); \node[Lbl] (d8t) at (779.6,1077) {Design a menu};
            \node[Dot=PinY] (d9) at (815.6,1105.7) {}; \coordinate (d9x) at (810.6,1088.2); \draw[Pin=PinY] (d9) -- (d9x);
            \node[Dot=PinY] (d10) at (847.7,1105.7) {}; \coordinate (d10x) at (848.3,1079.5); \draw[Pin=PinY] (d10) -- (d10x); \node[Lbl] (d10t) at (846,1048) {International\\foods};
            \node[Dot=PinY] (d11) at (948.1,1102.5) {}; \coordinate (d11x) at (949,1075.7); \draw[Pin=PinY] (d11) -- (d11x); \node[Lbl] (d11t) at (954.4,1051.9) {How climate\\effects food};
            \node[Dot=PinY] (d12) at (1046.5,1098.2) {}; \coordinate (d12x) at (1040.2,1077.4); \draw[Pin=PinY] (d12) -- (d12x); \node[Lbl] (d12t) at (1040.2,1051.7) {Making a\\roux};
            \node[Dot=PinY] (d13) at (1144.6,1128.2) {}; \coordinate (d13x) at (1178,1139.5); \draw[Pin=PinY] (d13) -- (d13x); \node[Lbl] (d13t) at (1216.8,1143.2) {Written\\evaluation};
            \node[Dot=PinY] (d14) at (1117,1151.5) {}; \coordinate (d14x) at (1133,1176); \draw[Pin=PinY] (d14) -- (d14x); \node[Lbl] (d14t) at (1186.3,1192) {Star rating\\evaluation};
            \node[Dot=PinY] (d15) at (1038.8,1180.2) {}; \coordinate (d15x) at (1054.7,1206); \draw[Pin=PinY] (d15) -- (d15x); \node[Lbl] (d15t) at (1089.6,1213) {Millard\\browning};
            \node[Dot=PinY] (d16) at (891.8,1180) {}; \coordinate (d16x) at (891.8,1197.8); \draw[Pin=PinY] (d16) -- (d16x); \node[Lbl] (d16t) at (891,1206) {Technical knowledge test};
            \node[Dot=PinY] (d17) at (671.9,1180.2) {}; \coordinate (d17x) at (673.2,1205.3); \draw[Pin=PinY] (d17) -- (d17x); \node[Lbl] (d17t) at (695.8,1212.8) {Making bread};
            \node[Dot=PinY] (d18) at (547.7,1180) {}; \coordinate (d18x) at (547.7,1197.8); \draw[Pin=PinY] (d18) -- (d18x); \node[Lbl] (d18t) at (556.5,1206.5) {Rough puff pastry};
            \node[Dot=PinY] (d19) at (350.3,1180.2) {}; \coordinate (d19x) at (350.3,1201.5); \draw[Pin=PinY] (d19) -- (d19x); \node[Lbl] (d19t) at (394.5,1212) {Breading food};
            \node[Dot=PinY] (d20) at (280.2,1180.2) {}; \coordinate (d20x) at (280.2,1201.5); \draw[Pin=PinY] (d20) -- (d20x); \node[Lbl] (d20t) at (282.1,1212.8) {Caramelizing};

            \node[Dot=PinO] (e1) at (353.8,1297.8) {}; \coordinate (e1x) at (354.4,1272.8); \draw[Pin=PinO] (e1) -- (e1x); \node[Lbl] (e1t) at (339.8,1262.8) {Technical knowledge\\test};
            \node[Dot=PinO] (e2) at (174.5,1301) {}; \coordinate (e2x) at (140.1,1325.8); \draw[Pin=PinO] (e2) -- (e2x); \node[Lbl] (e2t) at (114.8,1332.8) {Group\\Assessment};
            \node[Dot=PinO] (e3) at (206.6,1342.1) {}; \coordinate (e3x) at (181.9,1369.1); \draw[Pin=PinO] (e3) -- (e3x); \node[Lbl] (e3t) at (162.1,1381.6) {Self\\Assessment};
            \node[Dot=PinO] (e4) at (248.1,1359.1) {}; \coordinate (e4x) at (235.4,1394.1); \draw[Pin=PinO] (e4) -- (e4x); \node[Lbl] (e4t) at (230.8,1415.4) {Peer\\Assessment};
            \node[Dot=PinO] (e5) at (333.2,1367.1) {}; \coordinate (e5x) at (333.2,1402.9); \draw[Pin=PinO] (e5) -- (e5x); \node[Lbl] (e5t) at (333.8,1425.6) {Chemical raising\\agent.};
            \node[Dot=PinR] (e6) at (403.3,1372.8) {}; \coordinate (e6x) at (406,1447.9); \draw[Pin=PinR] (e6) -- (e6x); \node[Lbl] (e6t) at (406,1476.6) {Design a\\rainbow salad.};
            \node[Dot=PinO] (e7) at (452.6,1366.6) {}; \coordinate (e7x) at (452.6,1402.9); \draw[Pin=PinO] (e7) -- (e7x); \node[Lbl] (e7t) at (459,1431) {Vitamins and\\minerals};
            \node[Dot=PinO] (e8) at (562.5,1366.6) {}; \coordinate (e8x) at (562.5,1402.9); \draw[Pin=PinO] (e8) -- (e8x); \node[Lbl] (e8t) at (578.5,1433.2) {Types of knife cuts\\and their purpose};
            \node[Dot=PinO] (e9) at (512.5,1294.6) {}; \coordinate (e9x) at (512.5,1270.3); \draw[Pin=PinO] (e9) -- (e9x); \node[Lbl] (e9t) at (518,1254.3) {Health and\\safety: Knives};
            \node[Dot=PinO] (e10) at (632.8,1289.6) {}; \coordinate (e10x) at (632.8,1264.5); \draw[Pin=PinO] (e10) -- (e10x); \node[Lbl] (e10t) at (624.6,1254.5) {Kneading};
            \node[Dot=PinR] (e11) at (680.9,1294) {}; \coordinate (e11x) at (680.9,1272); \draw[Pin=PinR] (e11) -- (e11x); \node[Lbl] (e11t) at (678.7,1257) {Yeast};
            \node[Dot=PinR] (e12) at (632.6,1366.6) {}; \coordinate (e12x) at (632.6,1398.6); \draw[Pin=PinR] (e12) -- (e12x); \node[Lbl] (e12t) at (639.7,1404.6) {Food allergies.};
            \node[Dot=PinR] (e13) at (710.3,1362.8) {}; \coordinate (e13x) at (710.3,1395.4); \draw[Pin=PinR] (e13) -- (e13x); \node[Lbl] (e13t) at (717.2,1402.4) {Gluten.};
            \node[Dot=PinR] (e14) at (811.4,1294) {}; \coordinate (e14x) at (811.4,1272.8); \draw[Pin=PinR] (e14) -- (e14x); \node[Lbl] (e14t) at (808,1264) {Carbohydrates};
            \node[Dot=PinR] (e15) at (887.1,1294) {}; \coordinate (e15x) at (887.1,1256); \draw[Pin=PinR] (e15) -- (e15x); \node[Lbl] (e15t) at (883,1245) {Eat well plate};
            \node[Dot=PinR] (e16) at (806,1362.8) {}; \coordinate (e16x) at (806,1394.1); \draw[Pin=PinR] (e16) -- (e16x); \node[Lbl] (e16t) at (812,1436.4) {Raising\\agent:\\Self-raising\\flour.};
            \node[Dot=PinR] (e17) at (898.1,1364.6) {}; \coordinate (e17x) at (898.1,1396.6); \draw[Pin=PinR] (e17) -- (e17x); \node[Lbl] (e17t) at (900,1409) {Balanced diet};
            \node[Dot=PinR] (e18) at (1001.1,1296.5) {}; \coordinate (e18x) at (1001.1,1258.5); \draw[Pin=PinR] (e18) -- (e18x); \node[Lbl] (e18t) at (1005.8,1236.3) {The 4Cs of\\hygiene};
            \node[Dot=PinR] (e19) at (989.3,1362.8) {}; \coordinate (e19x) at (990.1,1420.4); \draw[Pin=PinR] (e19) -- (e19x); \node[Lbl] (e19t) at (990.1,1448.6) {How to\\clean};
            \node[Dot=PinR] (e20) at (1030,1366.6) {}; \coordinate (e20x) at (1030,1398.6); \draw[Pin=PinR] (e20) -- (e20x); \node[Lbl] (e20t) at (1051.7,1423.2) {Health \&\\Safety};

            \node[CapTxt, text=CapRed] (cap1) at (160,1548) {Creativity \& \textbf{Design}};
            \node[CapTxt, text=CapYel] (cap2) at (479.5,1548) {Quality \textbf{Make}};
            \node[CapTxt, text=CapGrn] (cap3) at (806.5,1548) {Analyse \& \textbf{Evaluate}};
            \node[CapTxt, text=CapBlu] (cap4) at (1129.4,1548) {Technical \textbf{Knowledge}};
\end{tikzpicture}
\end{document}
